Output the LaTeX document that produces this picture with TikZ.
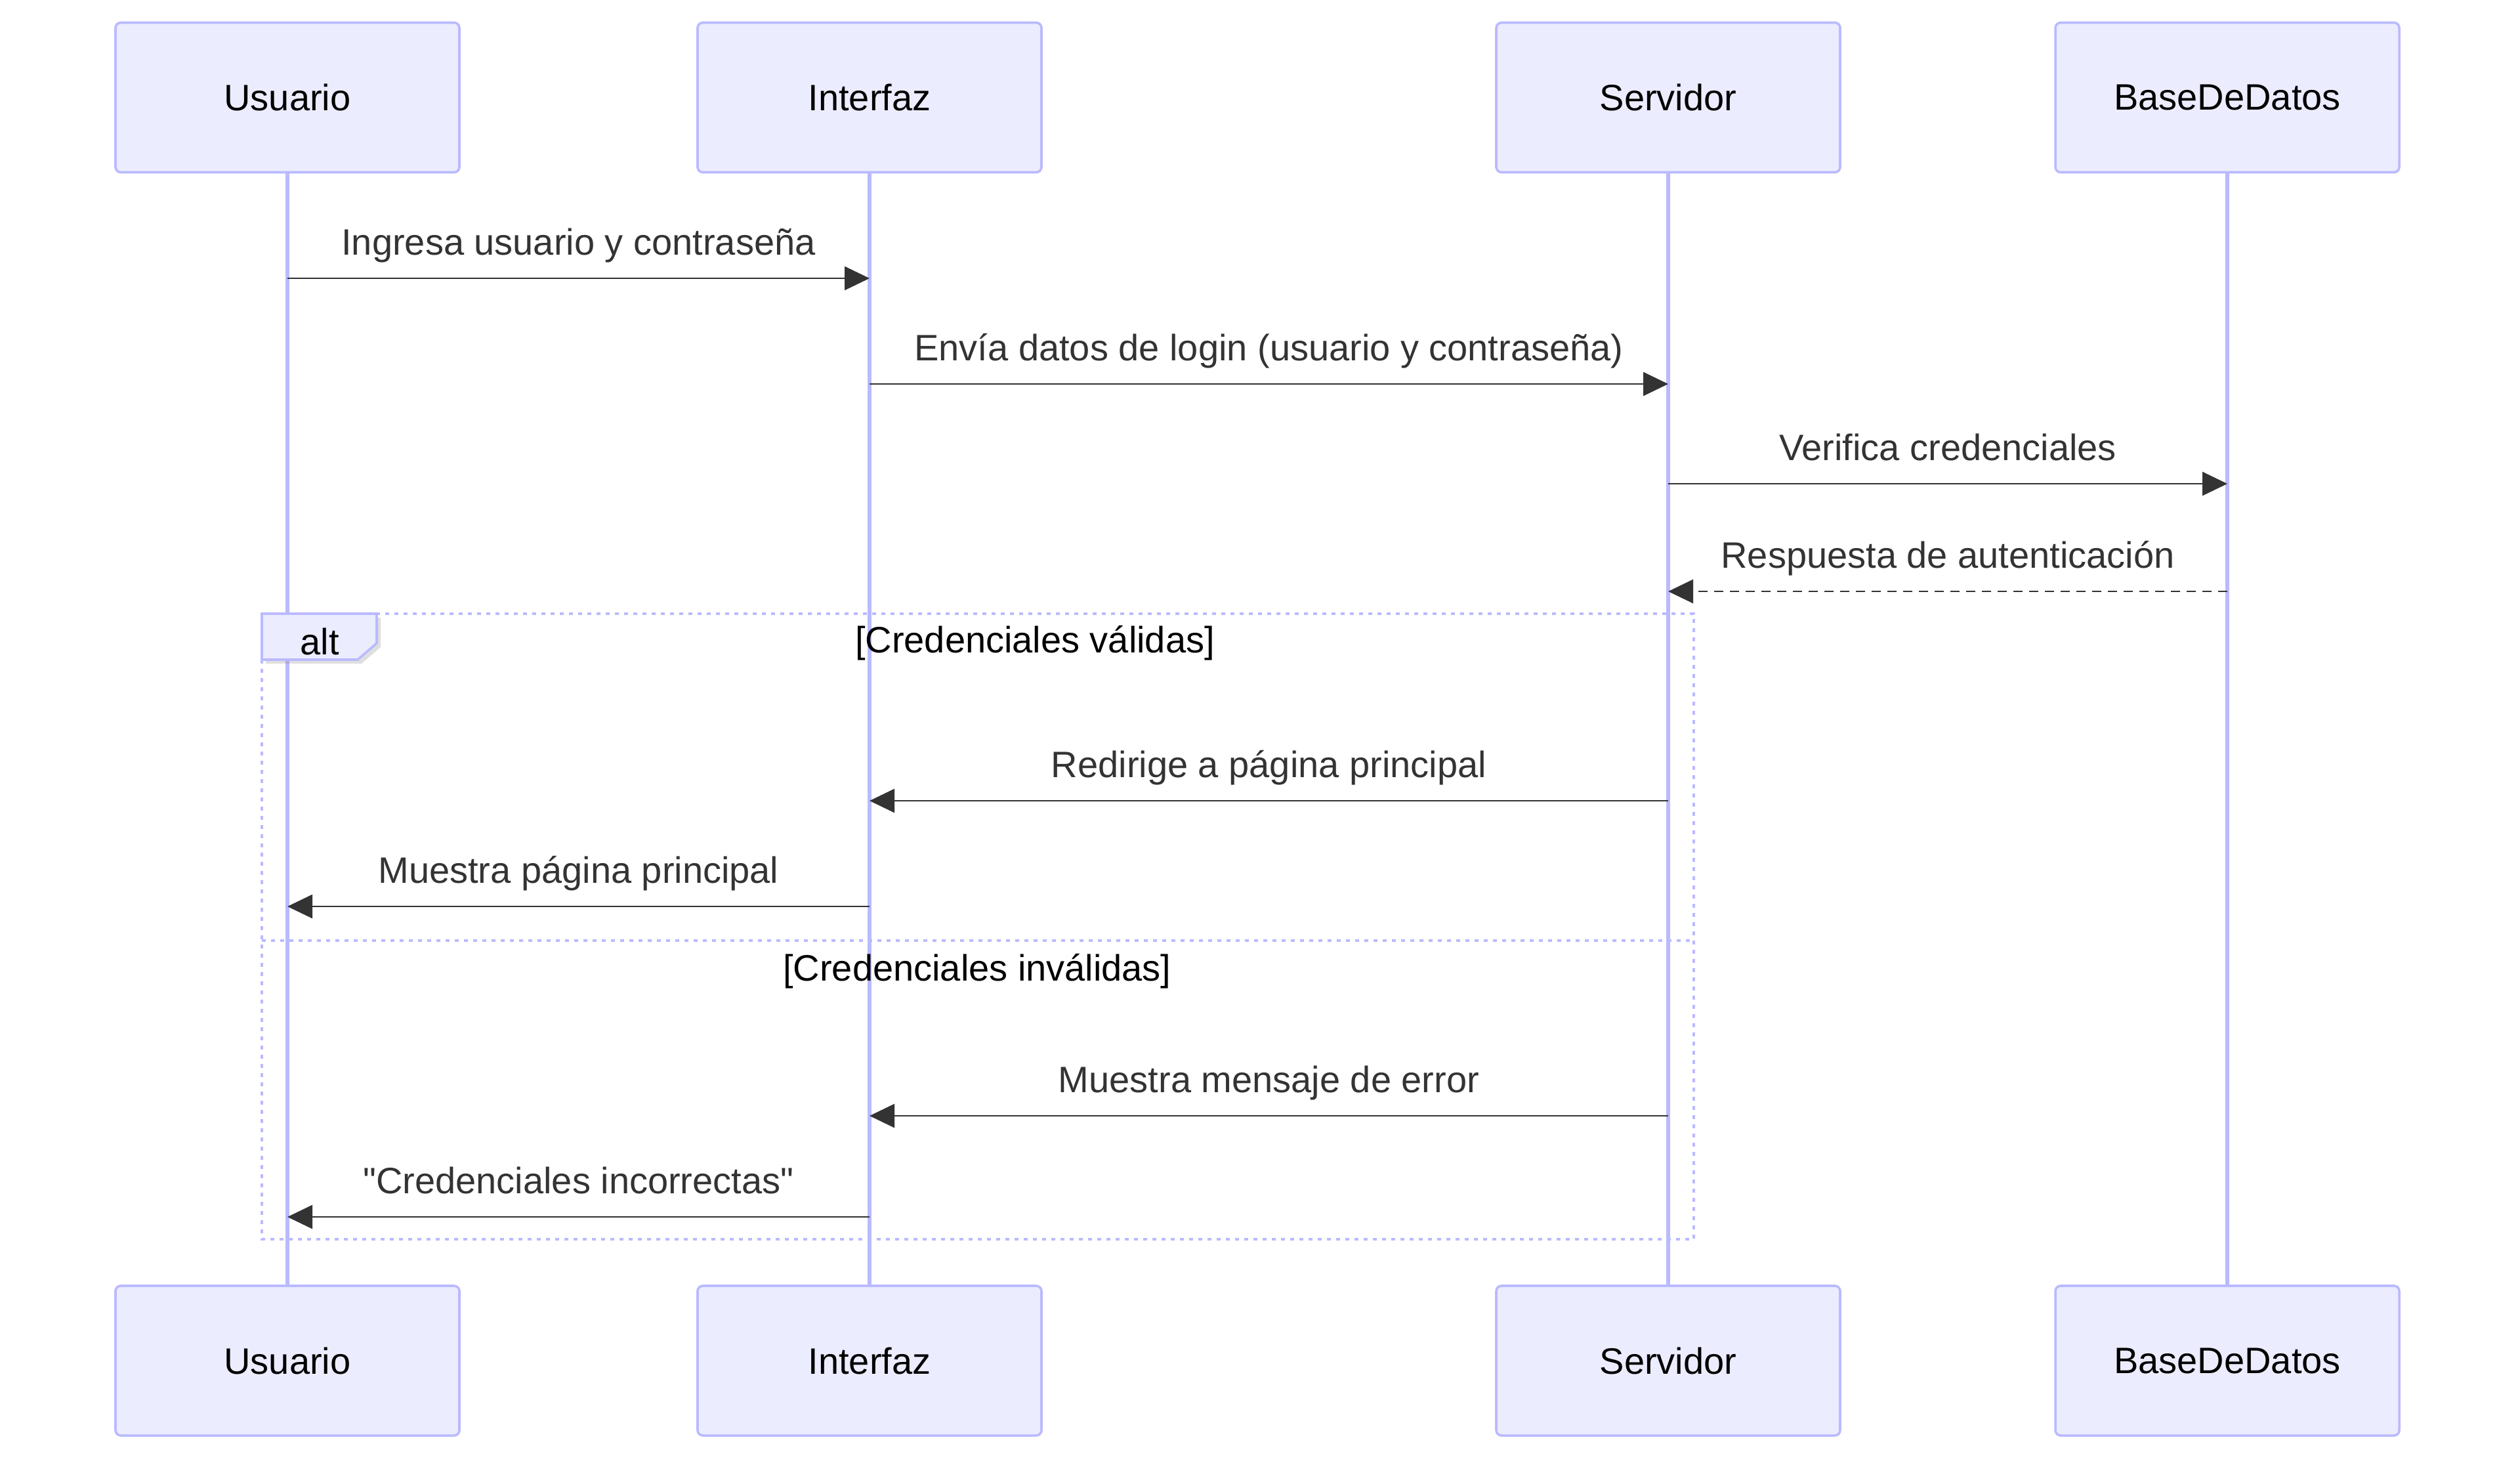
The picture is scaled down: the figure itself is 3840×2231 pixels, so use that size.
\documentclass[tikz,border=0pt]{standalone}
\usepackage{fontspec}
\setmainfont{Liberation Sans}
\usetikzlibrary{arrows.meta,shadows}
\definecolor{actfill}{HTML}{ECECFF}
\definecolor{actline}{HTML}{BABAFF}
\definecolor{msgline}{HTML}{333333}
\tikzset{
  actor/.style={draw=actline, fill=actfill, line width=0.9pt, rounded corners=2pt,
    minimum width=131pt, minimum height=57pt, font=\fontsize{14}{17}\selectfont},
  lifeline/.style={draw=actline, line width=1.5pt},
  msg/.style={draw=msgline, line width=0.7pt, -{Triangle[length=9.5pt,width=9pt]}},
  reply/.style={msg, dash pattern=on 3.5pt off 2.5pt},
  msglabel/.style={anchor=base, yshift=9pt, text=msgline, font=\fontsize{14}{17}\selectfont},
  altframe/.style={draw=actline, line width=1.2pt, dash pattern=on 1.6pt off 1.9pt},
  tagbox/.style={draw=actline, fill=actfill, line width=0.9pt,
    drop shadow={opacity=0.25, shadow xshift=1.5pt, shadow yshift=-1.5pt}},
  guard/.style={font=\fontsize{14}{17}\selectfont}
}
\begin{document}
\begin{tikzpicture}[x=0.25pt, y=-0.25pt]
  \useasboundingbox (0,0) rectangle (3840,2231);
  % participantes
  \node[actor] (usuario) at (438,148.5) {Usuario};
  \node[actor] (interfaz) at (1325,148.5) {Interfaz};
  \node[actor] (servidor) at (2542,148.5) {Servidor};
  \node[actor] (base) at (3394,148.5) {BaseDeDatos};
  \node[actor] (usuario2) at (438,2073) {Usuario};
  \node[actor] (interfaz2) at (1325,2073) {Interfaz};
  \node[actor] (servidor2) at (2542,2073) {Servidor};
  \node[actor] (base2) at (3394,2073) {BaseDeDatos};
  \draw[lifeline] (usuario) -- (usuario2);
  \draw[lifeline] (interfaz) -- (interfaz2);
  \draw[lifeline] (servidor) -- (servidor2);
  \draw[lifeline] (base) -- (base2);
  % filas de mensajes
  \coordinate (m1) at (0,424);
  \coordinate (m2) at (0,585);
  \coordinate (m3) at (0,737);
  \coordinate (m4) at (0,901);
  \coordinate (m5) at (0,1220);
  \coordinate (m6) at (0,1381);
  \coordinate (m7) at (0,1700);
  \coordinate (m8) at (0,1854);
  % bloque alt
  \draw[altframe] (399,935) rectangle (2581,1888);
  \draw[altframe] (399,1433) -- (2581,1433);
  \draw[tagbox] (399,935) -- (574,935) -- (574,980) -- (545,1005) -- (399,1005) -- cycle;
  \node[guard, anchor=base] (alttag) at (487,997) {alt};
  \node[guard] (validas) at (1577,980) {[Credenciales válidas]};
  \node[guard] (invalidas) at (1489,1480) {[Credenciales inválidas]};
  % mensajes
  \draw[msg] (usuario |- m1) -- (interfaz |- m1)
    node[msglabel, midway] {Ingresa usuario y contraseña};
  \draw[msg] (interfaz |- m2) -- (servidor |- m2)
    node[msglabel, midway] {Envía datos de login (usuario y contraseña)};
  \draw[msg] (servidor |- m3) -- (base |- m3)
    node[msglabel, midway] {Verifica credenciales};
  \draw[reply] (base |- m4) -- (servidor |- m4)
    node[msglabel, midway] {Respuesta de autenticación};
  \draw[msg] (servidor |- m5) -- (interfaz |- m5)
    node[msglabel, midway] {Redirige a página principal};
  \draw[msg] (interfaz |- m6) -- (usuario |- m6)
    node[msglabel, midway] {Muestra página principal};
  \draw[msg] (servidor |- m7) -- (interfaz |- m7)
    node[msglabel, midway] {Muestra mensaje de error};
  \draw[msg] (interfaz |- m8) -- (usuario |- m8)
    node[msglabel, midway] {\textquotedbl Credenciales incorrectas\textquotedbl};
\end{tikzpicture}
\end{document}
